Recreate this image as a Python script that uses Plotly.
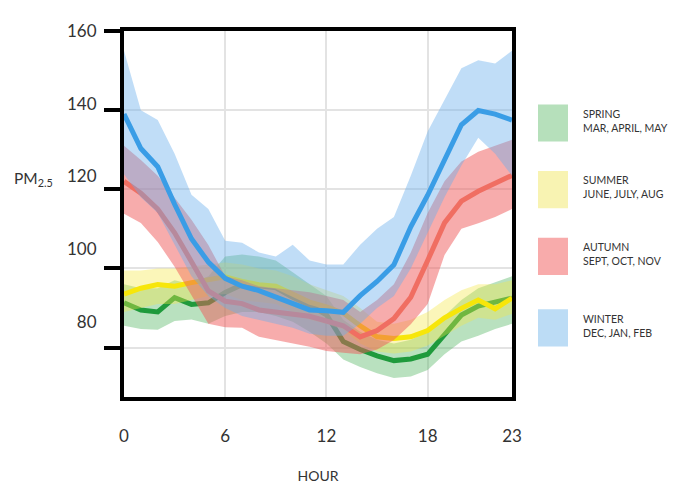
import plotly.graph_objects as go

hours = list(range(24))

spring_mid = [91.3, 89.5, 89.0, 92.6, 90.9, 91.3, 93.9, 95.9, 95.6, 95.1, 92.7, 90.7, 88.3, 81.5, 79.5, 77.9, 76.7, 77.1, 78.3, 83.2, 88.2, 90.5, 91.5, 92.5]
spring_hi = [96.0, 95.0, 95.0, 97.0, 96.0, 98.0, 103.0, 103.5, 103.0, 102.0, 99.0, 96.0, 93.0, 87.0, 84.0, 82.0, 81.0, 82.0, 84.0, 88.0, 92.0, 95.0, 96.5, 98.0]
spring_lo = [85.5, 84.7, 84.5, 86.7, 87.1, 86.0, 88.0, 89.0, 89.0, 88.0, 86.5, 84.0, 81.0, 77.0, 75.1, 73.5, 72.3, 72.7, 74.3, 78.3, 81.5, 83.0, 84.7, 86.0]

summer_mid = [93.5, 95.0, 95.9, 95.5, 96.4, 97.2, 97.9, 96.7, 95.9, 95.5, 93.5, 91.5, 90.3, 88.7, 85.5, 82.7, 82.3, 82.7, 84.3, 87.5, 89.9, 92.0, 89.8, 92.5]
summer_hi = [99.5, 99.5, 100.0, 100.0, 100.5, 101.0, 101.5, 101.0, 100.0, 99.5, 98.0, 96.0, 94.5, 93.0, 90.0, 86.5, 86.0, 87.0, 89.0, 92.0, 94.5, 96.0, 96.0, 97.0]
summer_lo = [89.0, 90.0, 91.0, 91.0, 92.0, 93.0, 93.5, 92.0, 91.5, 91.0, 89.0, 87.0, 86.0, 84.5, 81.0, 79.0, 78.5, 79.0, 80.5, 83.0, 85.5, 87.5, 87.0, 88.5]

autumn_mid = [122.0, 119.0, 115.0, 109.0, 101.7, 94.3, 91.7, 91.1, 89.5, 88.9, 88.5, 87.9, 86.7, 85.5, 82.7, 84.3, 87.3, 92.7, 102.0, 111.5, 117.0, 119.5, 121.5, 123.5]
autumn_hi = [131.0, 127.4, 123.4, 117.8, 112.3, 105.9, 98.0, 97.0, 95.5, 95.0, 94.5, 94.0, 93.0, 92.0, 89.0, 92.0, 96.0, 104.0, 114.0, 122.0, 127.0, 129.5, 131.0, 132.5]
autumn_lo = [113.8, 111.5, 106.7, 100.4, 93.2, 86.0, 85.1, 85.0, 82.7, 81.9, 81.0, 80.2, 79.1, 78.7, 78.3, 79.5, 81.9, 85.9, 91.0, 103.4, 110.0, 111.4, 113.0, 115.0]

winter_mid = [139.0, 130.3, 125.7, 116.2, 107.5, 101.6, 97.5, 95.5, 94.4, 92.7, 91.0, 89.5, 89.3, 88.9, 93.1, 96.7, 100.9, 110.5, 118.5, 127.5, 136.3, 139.9, 139.0, 137.5]
winter_hi = [155.0, 140.0, 137.5, 129.0, 118.6, 115.0, 107.0, 106.5, 104.0, 103.0, 106.0, 102.0, 101.0, 101.0, 106.0, 110.0, 113.0, 123.4, 134.6, 142.5, 150.6, 152.6, 151.8, 155.0]
winter_lo = [123.8, 118.0, 114.0, 106.0, 98.0, 93.0, 90.0, 88.0, 87.0, 86.0, 85.0, 83.5, 83.0, 83.0, 86.0, 90.0, 93.0, 100.0, 109.0, 118.0, 126.0, 133.0, 129.0, 123.4]

season_names = ["SPRING", "SUMMER", "AUTUMN", "WINTER"]
season_months = ["MAR, APRIL, MAY", "JUNE, JULY, AUG", "SEPT, OCT, NOV", "DEC, JAN, FEB"]
x_ticks = [0, 6, 12, 18, 23]
y_ticks = [80, 100, 120, 140, 160]

series = [
    (spring_mid, spring_hi, spring_lo, "#1f9a3c", "rgba(80,180,95,0.40)", "#b6e0bb"),
    (summer_mid, summer_hi, summer_lo, "#f7e60a", "rgba(245,232,70,0.38)", "#f8f3b2"),
    (autumn_mid, autumn_hi, autumn_lo, "#f06e62", "rgba(240,90,90,0.50)", "#f8abab"),
    (winter_mid, winter_hi, winter_lo, "#3a9de6", "rgba(105,175,235,0.42)", "#bcdcf5"),
]

fig = go.Figure()
for mid, hi, lo, lc, fc, _ in series:
    fig.add_trace(go.Scatter(
        x=hours + hours[::-1], y=hi + lo[::-1], fill="toself", fillcolor=fc,
        line=dict(width=0), mode="lines", showlegend=False, hoverinfo="skip"))
    fig.add_trace(go.Scatter(
        x=hours, y=mid, mode="lines", line=dict(color=lc, width=5),
        showlegend=False))

# invisible trace for the label axis
fig.add_trace(go.Scatter(x=[0], y=[100], yaxis="y2", mode="markers",
                         marker=dict(opacity=0), showlegend=False, hoverinfo="skip"))

font_family = "Lato, 'Open Sans', sans-serif"

# page offset (body margin) is 8px
OFF = 8
L, T, PW, PH = 116, 18, 388, 384


def px(xs):
    return (xs - OFF - L) / PW


def py(ys):
    return (OFF + T + PH - ys) / PH


fig.update_layout(
    width=684, height=487,
    margin=dict(l=L, r=684 - L - PW, t=T, b=487 - T - PH),
    paper_bgcolor="white", plot_bgcolor="white",
    font=dict(family=font_family, color="#333333"),
    xaxis=dict(
        range=[0, 23], tickvals=x_ticks, ticktext=[str(v) for v in x_ticks],
        showgrid=True, gridcolor="#e3e3e3", gridwidth=1.5,
        zeroline=False, showline=True, linecolor="black", linewidth=4, mirror=True,
        ticks="outside", ticklen=21, tickcolor="rgba(0,0,0,0)",
        tickfont=dict(size=17, color="#333333"),
        title=dict(text="HOUR", font=dict(size=14, color="#333333"), standoff=27),
    ),
    yaxis=dict(
        range=[67.5, 160], tickvals=y_ticks, showticklabels=False,
        showgrid=True, gridcolor="#e3e3e3", gridwidth=1.5,
        zeroline=False, showline=True, linecolor="black", linewidth=4, mirror=True,
        ticks="outside", ticklen=16, tickwidth=4, tickcolor="black",
    ),
    yaxis2=dict(
        range=[59.25, 160.05], overlaying="y", side="left", anchor="x",
        tickvals=y_ticks, ticktext=[str(v) for v in y_ticks],
        showgrid=False, zeroline=False, showline=False,
        ticks="outside", ticklen=23, tickcolor="rgba(0,0,0,0)",
        tickfont=dict(size=17, color="#333333"),
    ),
)

fig.add_annotation(text="PM<sub>2.5</sub>", xref="paper", yref="paper",
                   x=px(33), y=py(181), xanchor="center", yanchor="middle",
                   showarrow=False, font=dict(size=15.5, color="#333333"))

# legend blocks
leg_tops = [103, 173, 243, 318]
for (mid, hi, lo, lc, fc, sq), top, name, months in zip(series, leg_tops, season_names, season_months):
    fig.add_shape(type="rect", xref="paper", yref="paper",
                  x0=px(538), x1=px(568), y0=py(top + 39), y1=py(top),
                  fillcolor=sq, line=dict(width=0))
    fig.add_annotation(text=name + "<br>" + months, xref="paper", yref="paper",
                       x=px(581), y=py(top + 17), xanchor="left", yanchor="middle",
                       align="left", showarrow=False,
                       font=dict(size=10.5, color="#333333"))

fig.write_html("out.html")
